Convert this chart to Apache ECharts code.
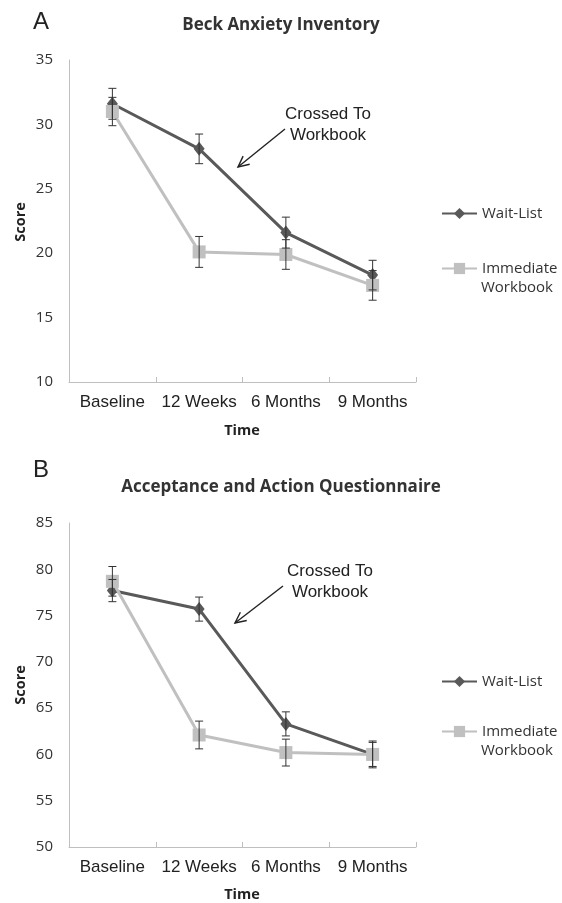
<!DOCTYPE html>
<html>
<head>
<meta charset="utf-8">
<script src="https://cdn.jsdelivr.net/npm/echarts@6/dist/echarts.min.js"></script>
<style>html,body{margin:0;padding:0;background:#fff;}#c{width:562px;height:903px;}</style>
</head>
<body>
<div id="c"></div>
<script>
// ---- data ----
var categories = ['Baseline', '12 Weeks', '6 Months', '9 Months'];
var seriesNames = ['Wait-List', 'Immediate Workbook'];

var titleA = 'Beck Anxiety Inventory';
var waitA = [31.6, 28.1, 21.6, 18.3];
var waitAErr = [1.2, 1.15, 1.2, 1.15];
var immA = [31.0, 20.1, 19.9, 17.5];
var immAErr = [1.1, 1.2, 1.15, 1.15];
var yTicksA = [10, 15, 20, 25, 30, 35];

var titleB = 'Acceptance and Action Questionnaire';
var waitB = [77.7, 75.7, 63.3, 60.0];
var waitBErr = [1.2, 1.3, 1.3, 1.3];
var immB = [78.7, 62.1, 60.2, 60.0];
var immBErr = [1.6, 1.5, 1.45, 1.45];
var yTicksB = [50, 55, 60, 65, 70, 75, 80, 85];

// ---- styles ----
var DARK = '#595959', LIGHT = '#c0c0c0', AXIS = '#bfbfbf', ERR = '#333333';
var SANS = '"Liberation Sans", Arial, sans-serif';
var CAL = '"Open Sans", sans-serif';

function errData(vals, errs) {
  return vals.map(function (v, i) { return [i, v, errs[i]]; });
}
function errRender(params, api) {
  var x = api.value(0), v = api.value(1), e = api.value(2);
  var top = api.coord([x, v + e]);
  var bot = api.coord([x, v - e]);
  var cw = 4;
  var st = { stroke: ERR, lineWidth: 1 };
  return {
    type: 'group',
    children: [
      { type: 'line', shape: { x1: top[0], y1: top[1], x2: bot[0], y2: bot[1] }, style: st },
      { type: 'line', shape: { x1: top[0] - cw, y1: top[1], x2: top[0] + cw, y2: top[1] }, style: st },
      { type: 'line', shape: { x1: bot[0] - cw, y1: bot[1], x2: bot[0] + cw, y2: bot[1] }, style: st }
    ]
  };
}
function xAxisCfg(gi) {
  return {
    type: 'category', gridIndex: gi, data: categories, boundaryGap: true,
    axisLine: { lineStyle: { color: AXIS, width: 1 } },
    axisTick: { show: true, inside: true, length: 5, lineStyle: { color: AXIS } },
    axisLabel: { color: '#222', fontFamily: SANS, fontSize: 17, margin: 12, interval: 0 },
    splitLine: { show: false }
  };
}
function yAxisCfg(gi, ticks) {
  return {
    type: 'value', gridIndex: gi, min: ticks[0], max: ticks[ticks.length - 1], interval: ticks[1] - ticks[0],
    axisLine: { show: true, lineStyle: { color: AXIS, width: 1 } },
    axisTick: { show: false },
    axisLabel: { color: '#333', fontFamily: CAL, fontSize: 15, margin: 16 },
    splitLine: { show: false }
  };
}
function lineSeries(name, data, gi, color, symbol, size, z) {
  return {
    name: name, type: 'line', xAxisIndex: gi, yAxisIndex: gi, data: data,
    symbol: symbol, symbolSize: size, z: z,
    lineStyle: { color: color, width: 3 },
    itemStyle: { color: color },
    emphasis: { disabled: true }, animation: false
  };
}
function errSeries(name, vals, errs, gi) {
  return {
    name: name, type: 'custom', xAxisIndex: gi, yAxisIndex: gi,
    data: errData(vals, errs), renderItem: errRender, z: 10, animation: false, silent: true
  };
}
function arrow(x1, y1, x2, y2) {
  // x1,y1 = tail; x2,y2 = tip (annotation)
  var a = Math.atan2(y1 - y2, x1 - x2), L = 12, s = 0.45;
  var st = { stroke: '#222', lineWidth: 1.4, fill: null };
  return {
    type: 'group', children: [
      { type: 'line', shape: { x1: x1, y1: y1, x2: x2, y2: y2 }, style: st },
      { type: 'polyline', shape: { points: [
        [x2 + L * Math.cos(a + s), y2 + L * Math.sin(a + s)], [x2, y2],
        [x2 + L * Math.cos(a - s), y2 + L * Math.sin(a - s)]] }, style: st }
    ]
  };
}
function txt(x, y, text, size, weight, family, rot, align, color) {
  return {
    type: 'text', x: x, y: y, rotation: rot || 0,
    style: { text: text, fontSize: size, fontWeight: weight || 'normal', fontFamily: family,
      fill: color || '#222', align: align || 'center', verticalAlign: 'middle', lineHeight: 21 }
  };
}

var chart = echarts.init(document.getElementById('c'), null, { renderer: 'canvas' });
var legendCommon = {
  orient: 'vertical', itemWidth: 35, itemHeight: 14, padding: 0, selectedMode: false,
  data: seriesNames,
  formatter: function (n) { return n === 'Immediate Workbook' ? 'Immediate' : n; },
  textStyle: { fontFamily: CAL, fontSize: 15, color: '#333' }
};
chart.setOption({
  animation: false,
  backgroundColor: '#fff',
  title: [
    { text: titleA, left: 'center', top: 17, padding: 0,
      textStyle: { fontFamily: CAL, fontWeight: 'bold', fontSize: 17, color: '#333' } },
    { text: titleB, left: 'center', top: 479, padding: 0,
      textStyle: { fontFamily: CAL, fontWeight: 'bold', fontSize: 17, color: '#333' } }
  ],
  legend: [
    Object.assign({}, legendCommon, { left: 441, top: 206, itemGap: 40 }),
    Object.assign({}, legendCommon, { left: 441, top: 674, itemGap: 35 })
  ],
  grid: [
    { left: 69, top: 60, width: 347, height: 322 },
    { left: 69, top: 523, width: 347, height: 324 }
  ],
  xAxis: [xAxisCfg(0), xAxisCfg(1)],
  yAxis: [yAxisCfg(0, yTicksA), yAxisCfg(1, yTicksB)],
  series: [
    lineSeries(seriesNames[0], waitA, 0, DARK, 'diamond', [11, 14], 2),
    lineSeries(seriesNames[1], immA, 0, LIGHT, 'rect', 13, 3),
    errSeries('errWaitA', waitA, waitAErr, 0),
    errSeries('errImmA', immA, immAErr, 0),
    lineSeries(seriesNames[0], waitB, 1, DARK, 'diamond', [11, 14], 2),
    lineSeries(seriesNames[1], immB, 1, LIGHT, 'rect', 13, 3),
    errSeries('errWaitB', waitB, waitBErr, 1),
    errSeries('errImmB', immB, immBErr, 1)
  ],
  graphic: [
    txt(41, 22, 'A', 24, 'normal', SANS),
    txt(41, 470, 'B', 24, 'normal', SANS),
    txt(21, 222, 'Score', 14.5, 'bold', CAL, Math.PI / 2),
    txt(21, 685, 'Score', 14.5, 'bold', CAL, Math.PI / 2),
    txt(242, 431, 'Time', 14.5, 'bold', CAL),
    txt(242, 895, 'Time', 14.5, 'bold', CAL),
    txt(328, 125, 'Crossed To\nWorkbook', 17, 'normal', SANS),
    txt(330, 582, 'Crossed To\nWorkbook', 17, 'normal', SANS),
    arrow(285, 129, 238, 167),
    arrow(283, 586, 235, 623),
    txt(481, 288, 'Workbook', 15, 'normal', CAL, 0, 'left', '#333'),
    txt(481, 751, 'Workbook', 15, 'normal', CAL, 0, 'left', '#333')
  ]
});
</script>
</body>
</html>
